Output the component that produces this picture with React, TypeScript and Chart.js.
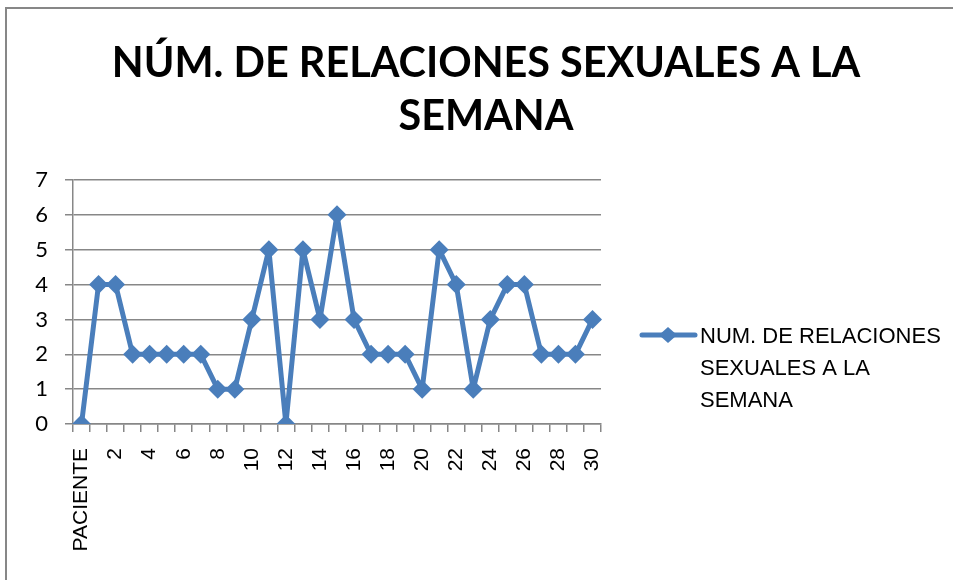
import React, { useEffect, useRef } from "react";
import { Chart, registerables } from "chart.js";

Chart.register(...registerables);

const categories: string[] = [
  "PACIENTE", "1", "2", "3", "4", "5", "6", "7", "8", "9", "10",
  "11", "12", "13", "14", "15", "16", "17", "18", "19", "20",
  "21", "22", "23", "24", "25", "26", "27", "28", "29", "30",
];

const relaciones: number[] = [
  0, 4, 4, 2, 2, 2, 2, 2, 1, 1, 3,
  5, 0, 5, 3, 6, 3, 2, 2, 2, 1,
  5, 4, 1, 3, 4, 4, 2, 2, 2, 3,
];

const titleLines: string[] = ["NÚM. DE RELACIONES SEXUALES A LA", "SEMANA"];
const seriesName = "NUM. DE RELACIONES SEXUALES A LA SEMANA";
const legendLines: string[] = ["NUM. DE RELACIONES", "SEXUALES A LA", "SEMANA"];

const BLUE = "#4A7EBB";
const GRID = "#878787";

const legendPlugin = {
  id: "sideLegend",
  afterDraw(chart: any) {
    const ctx = chart.ctx;
    const area = chart.chartArea;
    const x0 = area.right + 39;
    const yLine = 335;
    ctx.save();
    ctx.strokeStyle = BLUE;
    ctx.lineWidth = 5;
    ctx.lineCap = "round";
    ctx.beginPath();
    ctx.moveTo(x0 + 2, yLine);
    ctx.lineTo(x0 + 55, yLine);
    ctx.stroke();
    ctx.fillStyle = BLUE;
    const cx = x0 + 28;
    const r = 8;
    ctx.beginPath();
    ctx.moveTo(cx, yLine - r);
    ctx.lineTo(cx + r + 1, yLine);
    ctx.lineTo(cx, yLine + r);
    ctx.lineTo(cx - r - 1, yLine);
    ctx.closePath();
    ctx.fill();
    ctx.fillStyle = "#000";
    ctx.font = "22px 'Liberation Sans', sans-serif";
    ctx.textBaseline = "alphabetic";
    ctx.textAlign = "left";
    legendLines.forEach((t, i) => {
      ctx.fillText(t, x0 + 60, 343 + i * 32);
    });
    ctx.restore();
  },
};

export default function App() {
  const ref = useRef<HTMLCanvasElement | null>(null);
  useEffect(() => {
    if (!ref.current) return;
    const chart = new Chart(ref.current, {
      type: "line",
      data: {
        labels: categories,
        datasets: [
          {
            label: seriesName,
            data: relaciones,
            borderColor: BLUE,
            backgroundColor: BLUE,
            borderWidth: 5,
            borderJoinStyle: "bevel",
            pointStyle: "rectRot",
            pointRadius: 9.5,
            pointBackgroundColor: BLUE,
            pointBorderColor: BLUE,
            pointBorderWidth: 0,
            tension: 0,
          },
        ],
      },
      options: {
        animation: false,
        responsive: false,
        maintainAspectRatio: false,
        layout: { padding: { left: 19, right: 0, top: 0, bottom: 0 } },
        plugins: {
          legend: { display: false },
          tooltip: { enabled: false },
          title: {
            display: true,
            text: titleLines,
            color: "#000",
            font: { family: "Lato", size: 41.4, weight: "bold", lineHeight: 53 / 41.4 },
            padding: { top: 37, bottom: 37 },
          },
        },
        scales: {
          x: {
            type: "category",
            offset: true,
            grid: {
              offset: true,
              drawOnChartArea: false,
              drawTicks: true,
              tickLength: 8,
              color: GRID,
              lineWidth: 1.5,
            },
            border: { display: true, color: GRID, width: 1.5 },
            ticks: {
              autoSkip: false,
              minRotation: 90,
              maxRotation: 90,
              padding: 16,
              color: "#000",
              font: { family: "Liberation Sans", size: 21 },
              callback: (_v: any, i: number) => (i % 2 === 0 ? categories[i] : ""),
            },
            afterFit: (s: any) => {
              s.height = 156;
            },
          },
          y: {
            min: 0,
            max: 7,
            position: "left",
            grid: {
              color: GRID,
              lineWidth: 1.5,
              drawTicks: true,
              tickLength: 8,
            },
            border: { display: true, color: GRID, width: 1.5 },
            ticks: {
              stepSize: 1,
              padding: 17,
              color: "#000",
              font: { family: "Lato", size: 22 },
            },
            afterFit: (s: any) => {
              s.width = 54;
            },
          },
          yRight: {
            position: "right",
            display: true,
            grid: { display: false, drawTicks: false },
            border: { display: false },
            ticks: { display: false },
            afterFit: (s: any) => {
              s.width = 352;
            },
          },
        },
      },
      plugins: [legendPlugin],
    });
    return () => chart.destroy();
  }, []);

  return (
    <div
      style={{
        position: "fixed",
        left: 0,
        top: 0,
        width: 953,
        height: 580,
        overflow: "hidden",
        background: "#fff",
      }}
    >
      <div
        style={{
          position: "absolute",
          left: 5,
          top: 7,
          width: 1000,
          height: 1000,
          border: "2px solid #878787",
        }}
      />
      <canvas
        ref={ref}
        width={953}
        height={580}
        style={{ position: "absolute", left: 0, top: 0, width: 953, height: 580 }}
      />
    </div>
  );
}
